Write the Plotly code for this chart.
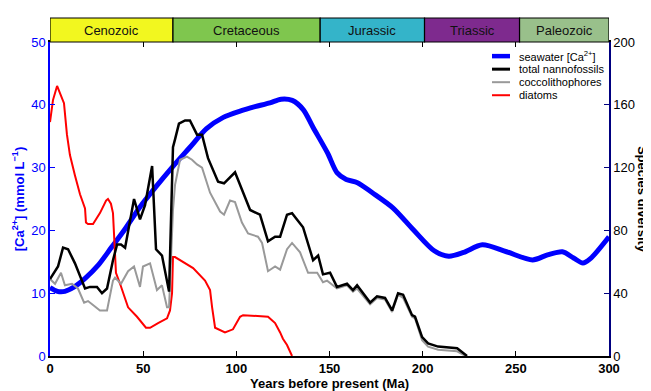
import plotly.graph_objects as go

# ---- data ----
eras = ["Cenozoic", "Cretaceous", "Jurassic", "Triassic", "Paleozoic"]
era_start = [0, 66, 145, 201, 252]
era_end = [66, 145, 201, 252, 300]
era_colors = ["#f2f71f", "#7fc64e", "#34b4c9", "#7e2a8e", "#99c08b"]

x_ticks = [0, 50, 100, 150, 200, 250, 300]
ca_ticks = [0, 10, 20, 30, 40, 50]
div_ticks = [0, 40, 80, 120, 160, 200]

ca_t = [0, 4, 8, 13, 19, 26, 33, 40, 48, 57, 66, 75, 84, 93, 102, 110, 118, 124,
        130, 136, 141, 149, 154, 159, 165, 173, 184, 195, 206, 214, 222, 232, 245,
        259, 267, 275, 281, 286, 290, 300]
ca_val = [10.9, 10.3, 10.3, 11.0, 12.4, 14.5, 17.3, 20.1, 23.6, 27.0, 30.2, 33.2,
          36.2, 38.0, 39.0, 39.7, 40.3, 40.9, 40.7, 39.2, 36.5, 32.3, 29.2, 28.1,
          27.6, 26.0, 23.6, 20.1, 16.8, 15.9, 16.5, 17.7, 16.6, 15.3, 16.1, 16.6,
          15.6, 14.8, 15.5, 19.0]

nanno_t = [0, 4.3, 7, 9.7, 13.4, 18.8, 21.5, 25.2, 27.9, 30.6, 33.8, 36, 38.1, 40.3,
           45.1, 48.3, 51, 54.8, 56.9, 60.1, 63.9, 66, 67.1, 69.2, 72.5, 75.1, 78.9,
           81.6, 84.8, 90.2, 93.4, 99.3, 103, 107.4, 112.7, 117, 120.8, 123.5, 127.2,
           129.9, 135.8, 141.2, 143.9, 146.5, 150.3, 154, 159.4, 162.6, 164.8, 171.8,
           175.5, 179.8, 183.6, 186.8, 189.5, 194.3, 195.9, 199.7, 202.9, 208.3,
           218.5, 221.7, 223.8]
nanno_val = [49, 57, 69, 68, 59, 43, 44, 44, 40, 43, 61, 71, 71, 69, 100, 87, 96, 121,
             68, 64, 41, 133, 138, 148, 150, 150, 141, 141, 126, 111, 110, 117, 106,
             93, 90, 73, 76, 76, 90, 91, 82, 61, 64, 52, 53, 44, 46, 42, 45, 34, 38,
             37, 29, 40, 39, 26, 25, 12, 8, 6, 5, 2, 0]

cocco_t = [0, 2.7, 5.9, 8, 11.8, 15, 18.3, 20.4, 23.6, 26.8, 30.6, 33.8, 34.9, 38.1,
           41.9, 45.1, 48.3, 49.9, 53.7, 57.4, 60.1, 62.8, 63.9, 66, 67.1, 69.8, 73.5,
           76.2, 78.9, 81.6, 85.9, 91.3, 93.4, 96.6, 99.3, 103, 106.3, 111.6, 113.8,
           117, 120.8, 123.5, 127.2, 129.9, 134.2, 138.5, 143.4, 146.5, 148.7, 154,
           159.4, 162.6, 164.8, 171.8, 175.5, 179.8, 183.6, 186.8, 189.5, 194.3,
           195.9, 199.7, 202.9, 208.3, 218.5, 221.7, 223]
cocco_val = [49, 46, 53, 45, 46, 43, 34, 35, 32, 29, 29, 48, 50, 46, 54, 57, 44, 57,
             59, 42, 45, 31, 31, 93, 109, 125, 127, 125, 122, 120, 104, 92, 90, 99, 98,
             85, 78, 76, 72, 54, 57, 55, 68, 72, 66, 53, 53, 47, 48, 43, 45, 41, 43,
             33, 37, 36, 28, 39, 37, 25, 24, 10, 6, 4, 3, 1, 0]

diatom_t = [0, 1.6, 3.8, 5.9, 7.5, 9.1, 10.7, 13.4, 16.1, 18.8, 19.3, 20.4, 23.1,
            26.8, 30.1, 31.1, 32.7, 33.8, 35.4, 37.6, 40.3, 41.9, 46.7, 51.5, 53.7,
            56.4, 58, 62.8, 64.4, 65.5, 66, 67.1, 76.8, 83.2, 85.9, 87, 88.6, 93.9,
            98.2, 102, 103.6, 117, 120.8, 123.5, 125, 127.2, 129.9]
diatom_val = [149, 163, 172, 166, 161, 141, 128, 115, 103, 94, 85, 84, 84, 91, 99,
              100, 97, 91, 53, 46, 36, 31, 25, 18, 18, 20, 21, 24, 29, 40, 63, 63, 56,
              48, 42, 31, 18, 15, 17, 25, 26, 25, 21, 15, 11, 7, 0]

legend_names = ["seawater [Ca<sup>2+</sup>]", "total nannofossils", "coccolithophores", "diatoms"]
legend_colors = ["#0000ff", "#000000", "#999999", "#ff0000"]
legend_widths = [4.5, 3, 2, 2]

FONT = "Arial, Liberation Sans, sans-serif"

fig = go.Figure()
fig.add_trace(go.Scatter(x=ca_t, y=ca_val, mode="lines", name=legend_names[0],
                         line=dict(color="#0000ff", width=5, shape="spline", smoothing=0.8),
                         yaxis="y", showlegend=False))
fig.add_trace(go.Scatter(x=diatom_t, y=diatom_val, mode="lines", name=legend_names[3],
                         line=dict(color="#ff0000", width=2), yaxis="y2", showlegend=False))
fig.add_trace(go.Scatter(x=cocco_t, y=cocco_val, mode="lines", name=legend_names[2],
                         line=dict(color="#999999", width=2), yaxis="y2", showlegend=False))
fig.add_trace(go.Scatter(x=nanno_t, y=nanno_val, mode="lines", name=legend_names[1],
                         line=dict(color="#000000", width=2.5), yaxis="y2", showlegend=False))

band_h = 24 / 314
shapes = []
annotations = []
for name, s, e, c in zip(eras, era_start, era_end, era_colors):
    shapes.append(dict(type="rect", xref="x", yref="paper", x0=s, x1=e, y0=1, y1=1 + band_h,
                       fillcolor=c, line=dict(color="black", width=1.2), layer="above"))
    annotations.append(dict(x=(s + e) / 2, y=1 + band_h / 2, xref="x", yref="paper",
                            xanchor="center", yanchor="middle",
                            text=name, showarrow=False,
                            font=dict(family=FONT, size=13, color="#111111")))

# manual legend (compact spacing like the reference)
leg_y0 = 0.955
leg_dy = 0.0415
for i, (nm, col, w) in enumerate(zip(legend_names, legend_colors, legend_widths)):
    yy = leg_y0 - i * leg_dy
    shapes.append(dict(type="line", xref="paper", yref="paper", x0=0.7907, x1=0.8229,
                       y0=yy, y1=yy, line=dict(color=col, width=w)))
    annotations.append(dict(x=0.8354, y=yy, xref="paper", yref="paper", xanchor="left",
                            yanchor="middle", text=nm, showarrow=False,
                            font=dict(family=FONT, size=11, color="black")))

annotations.append(dict(x=1.061, y=0.5, xref="paper", yref="paper", text="<b>Species diversity</b>",
                        xanchor="center", yanchor="middle",
                        textangle=90, showarrow=False, font=dict(family=FONT, size=13, color="black")))

# the page body adds an 8px offset, so the figure is sized 8px smaller
fig.update_layout(
    width=643, height=383,
    margin=dict(l=42, r=42, t=34, b=35, autoexpand=False),
    paper_bgcolor="white", plot_bgcolor="white",
    font=dict(family=FONT, size=13, color="black"),
    showlegend=False,
    xaxis=dict(range=[0, 300], tickmode="array", tickvals=x_ticks,
               ticktext=["<b>%d</b>" % v for v in x_ticks],
               ticks="inside", ticklen=5, tickcolor="black", showline=True, linecolor="black",
               linewidth=1.5, mirror="ticks", showgrid=False, zeroline=False, automargin=False,
               tickfont=dict(family=FONT, size=13, color="black"),
               title=dict(text="<b>Years before present (Ma)</b>", standoff=2,
                          font=dict(family=FONT, size=13, color="black"))),
    yaxis=dict(range=[0, 50], tickmode="array", tickvals=ca_ticks, ticks="inside", ticklen=5,
               tickcolor="#0000ff", showline=True, linecolor="#0000ff", linewidth=1.5,
               showgrid=False, zeroline=False, automargin=False,
               tickfont=dict(family=FONT, size=13, color="#0000ff"),
               title=dict(text="<b>[Ca<sup>2+</sup>] (mmol L<sup>\u22121</sup>)</b>", standoff=4,
                          font=dict(family=FONT, size=13, color="#0000ff"))),
    yaxis2=dict(range=[0, 200], tickmode="array", tickvals=div_ticks, overlaying="y",
                side="right", ticks="inside", ticklen=5, tickcolor="#000080", showline=True,
                linecolor="#000080", linewidth=1.5, showgrid=False, zeroline=False,
                automargin=False,
                tickfont=dict(family=FONT, size=13, color="black")),
    shapes=shapes,
    annotations=annotations,
)

fig.write_html("out.html")
